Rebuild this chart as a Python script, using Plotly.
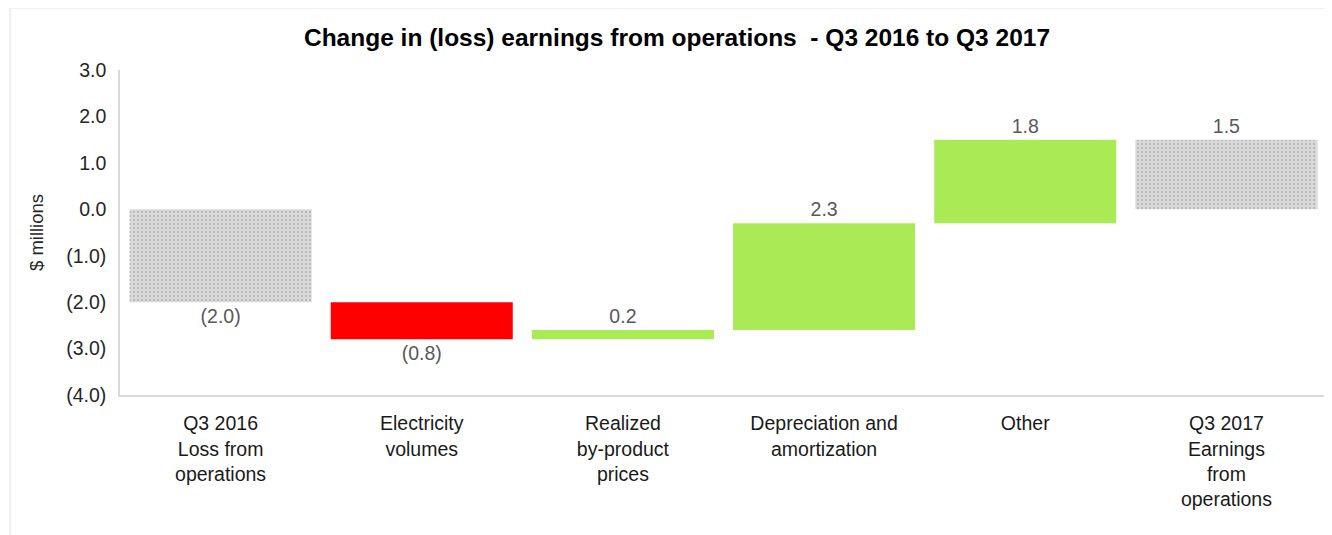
import plotly.graph_objects as go

categories = ["Q3 2016<br>Loss from<br>operations", "Electricity<br>volumes",
              "Realized<br>by-product<br>prices", "Depreciation and<br>amortization",
              "Other", "Q3 2017<br>Earnings<br>from<br>operations"]
values = [-2.0, -0.8, 0.2, 2.3, 1.8, 1.5]
measures = ["total", "relative", "relative", "relative", "relative", "total"]
ytick_vals = [3, 2, 1, 0, -1, -2, -3, -4]

# bases for the floating bars
bases = []
running = 0.0
for v, m in zip(values, measures):
    if m == "total":
        bases.append(0.0)
        running = v
    else:
        bases.append(running)
        running += v

def fmt(v):
    return "({:.1f})".format(abs(v)) if v < 0 else "{:.1f}".format(v)

colors = []
for v, m in zip(values, measures):
    if m == "total":
        colors.append("#d9d9d9")
    elif v < 0:
        colors.append("#ff0000")
    else:
        colors.append("#a9ea55")

patterns = ["." if m == "total" else "" for m in measures]

fig = go.Figure(go.Bar(
    x=categories, y=values, base=bases,
    marker=dict(color=colors, line=dict(width=0),
                pattern=dict(shape=patterns, fgcolor="#cbcbcb", bgcolor=colors,
                             size=4, solidity=0.12)),
    text=[fmt(v) for v in values], textposition="outside",
    textfont=dict(size=19.5, color="#595959"), cliponaxis=False,
    width=0.905,
))

# page body has an 8px margin, so the figure is sized/placed to compensate
fig.update_layout(
    width=1324, height=527,
    margin=dict(l=112, r=5, t=62, b=140, autoexpand=False),
    paper_bgcolor="white", plot_bgcolor="white",
    font=dict(family="Liberation Sans, Arial, sans-serif", color="#262626"),
    title=dict(text="<b>Change in (loss) earnings from operations  - Q3 2016 to Q3 2017</b>",
               x=669/1324, xanchor="center", y=1-29/527, yanchor="middle",
               font=dict(size=24.5, color="#000000")),
    showlegend=False,
    shapes=[dict(type="rect", xref="paper", yref="paper",
                 x0=-0.0911, x1=1.02, y0=-0.47, y1=1.1908,
                 line=dict(color="#e0e0e0", width=1), layer="below")],
)
fig.update_yaxes(range=[-4, 3], tickvals=ytick_vals,
                 ticktext=[fmt(t) for t in ytick_vals], automargin=False,
                 showgrid=False, zeroline=False, showline=True, linecolor="#d9d9d9",
                 linewidth=1.5, tickfont=dict(size=19.5, color="#262626"), ticks="",
                 ticklabelstandoff=8,
                 title=dict(text="$ millions", font=dict(size=18.5, color="#262626"), standoff=18))
fig.update_xaxes(showgrid=False, showline=True, linecolor="#d9d9d9", linewidth=1.5,
                 automargin=False, tickfont=dict(size=19.5, color="#1a1a1a"),
                 ticks="", tickangle=0, ticklabelstandoff=10)

fig.write_html("out.html")
